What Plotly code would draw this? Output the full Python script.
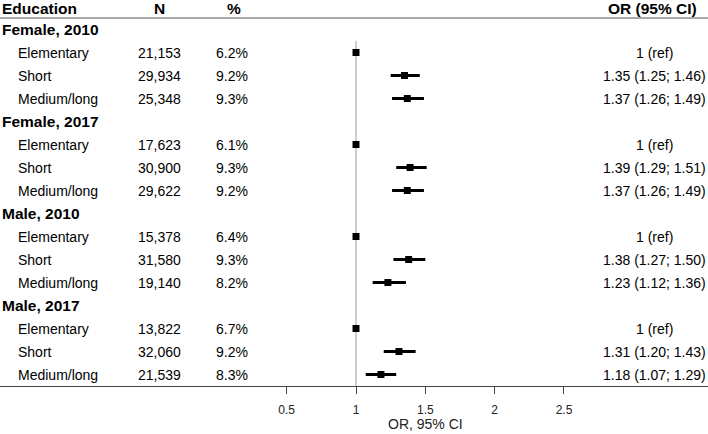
import plotly.graph_objects as go

groups = ["Female, 2010", "Female, 2017", "Male, 2010", "Male, 2017"]
levels = ["Elementary", "Short", "Medium/long"]
n_vals = [21153, 29934, 25348, 17623, 30900, 29622, 15378, 31580, 19140, 13822, 32060, 21539]
pct_vals = [6.2, 9.2, 9.3, 6.1, 9.3, 9.2, 6.4, 9.3, 8.2, 6.7, 9.2, 8.3]
or_vals = [1.0, 1.35, 1.37, 1.0, 1.39, 1.37, 1.0, 1.38, 1.23, 1.0, 1.31, 1.18]
ci_low = [None, 1.25, 1.26, None, 1.29, 1.26, None, 1.27, 1.12, None, 1.20, 1.07]
ci_high = [None, 1.46, 1.49, None, 1.51, 1.49, None, 1.50, 1.36, None, 1.43, 1.29]
tick_vals = [0.5, 1, 1.5, 2, 2.5]
tick_text = ["0.5", "1", "1.5", "2", "2.5"]
headers = ["Education", "N", "%", "OR (95% CI)"]

W, H = 708, 434
FONT = "Liberation Sans, Arial, sans-serif"
REG = 14
BOLD = 15.5

# row layout: header row 0, each group: group label row then 3 level rows
rows_y = []
group_y = []
for g in range(len(groups)):
    group_y.append(1 + 4 * g)
    for i in range(len(levels)):
        rows_y.append(2 + 4 * g + i)

err_plus = [(h - o) if h is not None else 0 for h, o in zip(ci_high, or_vals)]
err_minus = [(o - l) if l is not None else 0 for l, o in zip(ci_low, or_vals)]

fig = go.Figure()

fig.add_trace(go.Scatter(
    x=or_vals, y=rows_y, mode="markers",
    marker=dict(symbol="square", size=7, color="black"),
    error_x=dict(type="data", symmetric=False, array=err_plus, arrayminus=err_minus,
                 thickness=3, width=0, color="black"),
    showlegend=False, hoverinfo="skip",
))

ann = []
def px(x):
    return x / W

# header row (above plot area, half a row above the top line)
for txt, xp, anc in [(headers[0], 0, "left"), (headers[1], 159, "center"),
                     (headers[2], 234, "center"), (headers[3], 652, "center")]:
    ann.append(dict(x=px(xp), y=1, xref="paper", yref="paper", text="<b>%s</b>" % txt,
                    xanchor=anc, yanchor="middle", yshift=10, showarrow=False,
                    font=dict(family=FONT, size=BOLD, color="black")))

for g, gy in zip(groups, group_y):
    ann.append(dict(x=px(0), y=gy, xref="paper", yref="y", text="<b>%s</b>" % g,
                    xanchor="left", yanchor="middle", showarrow=False,
                    font=dict(family=FONT, size=BOLD, color="black")))

for k, ry in enumerate(rows_y):
    lvl = levels[k % 3]
    ann.append(dict(x=px(16), y=ry, xref="paper", yref="y", text=lvl,
                    xanchor="left", yanchor="middle", showarrow=False,
                    font=dict(family=FONT, size=REG, color="black")))
    ann.append(dict(x=px(159), y=ry, xref="paper", yref="y", text=f"{n_vals[k]:,}",
                    xanchor="center", yanchor="middle", showarrow=False,
                    font=dict(family=FONT, size=REG, color="black")))
    ann.append(dict(x=px(232), y=ry, xref="paper", yref="y", text=f"{pct_vals[k]:.1f}%",
                    xanchor="center", yanchor="middle", showarrow=False,
                    font=dict(family=FONT, size=REG, color="black")))
    if ci_low[k] is None:
        t = f"{or_vals[k]:g} (ref)"
    else:
        t = f"{or_vals[k]:.2f} ({ci_low[k]:.2f}; {ci_high[k]:.2f})"
    ann.append(dict(x=px(654), y=ry, xref="paper", yref="y", text=t,
                    xanchor="center", yanchor="middle", showarrow=False,
                    font=dict(family=FONT, size=REG, color="black")))

# axis title centred on 1.5
ann.append(dict(x=1.5, y=0, xref="x", yref="paper", text="OR, 95% CI",
                xanchor="center", yanchor="middle", yshift=-38, showarrow=False,
                font=dict(family=FONT, size=REG, color="#222")))

shapes = [
    dict(type="line", xref="x", yref="y", x0=1, x1=1, y0=1.5, y1=16.5,
         line=dict(color="#bdbdbd", width=1.5), layer="below"),
    dict(type="line", xref="paper", yref="paper", x0=0, x1=1, y0=1, y1=1,
         line=dict(color="#555555", width=1.2)),
]

px_per_unit = 138.65
r0 = 1 - 356 / px_per_unit
r1 = r0 + W / px_per_unit

fig.update_layout(
    width=W, height=H,
    margin=dict(l=0, r=0, t=18, b=48),
    paper_bgcolor="white", plot_bgcolor="white",
    annotations=ann, shapes=shapes,
    xaxis=dict(range=[r0, r1], showgrid=False, zeroline=False,
               showline=True, linecolor="#444444", linewidth=1.2,
               ticks="outside", ticklen=7, tickwidth=1.2, tickcolor="#444444",
               tickvals=tick_vals, ticktext=tick_text, ticklabelstandoff=5,
               tickfont=dict(family=FONT, size=12, color="#222")),
    yaxis=dict(range=[16.5, 0.5], visible=False, showgrid=False, zeroline=False),
    font=dict(family=FONT),
)

fig.write_html("out.html", config={"displayModeBar": False},
               post_script="document.body.style.margin='0';document.body.style.overflow='hidden';")
